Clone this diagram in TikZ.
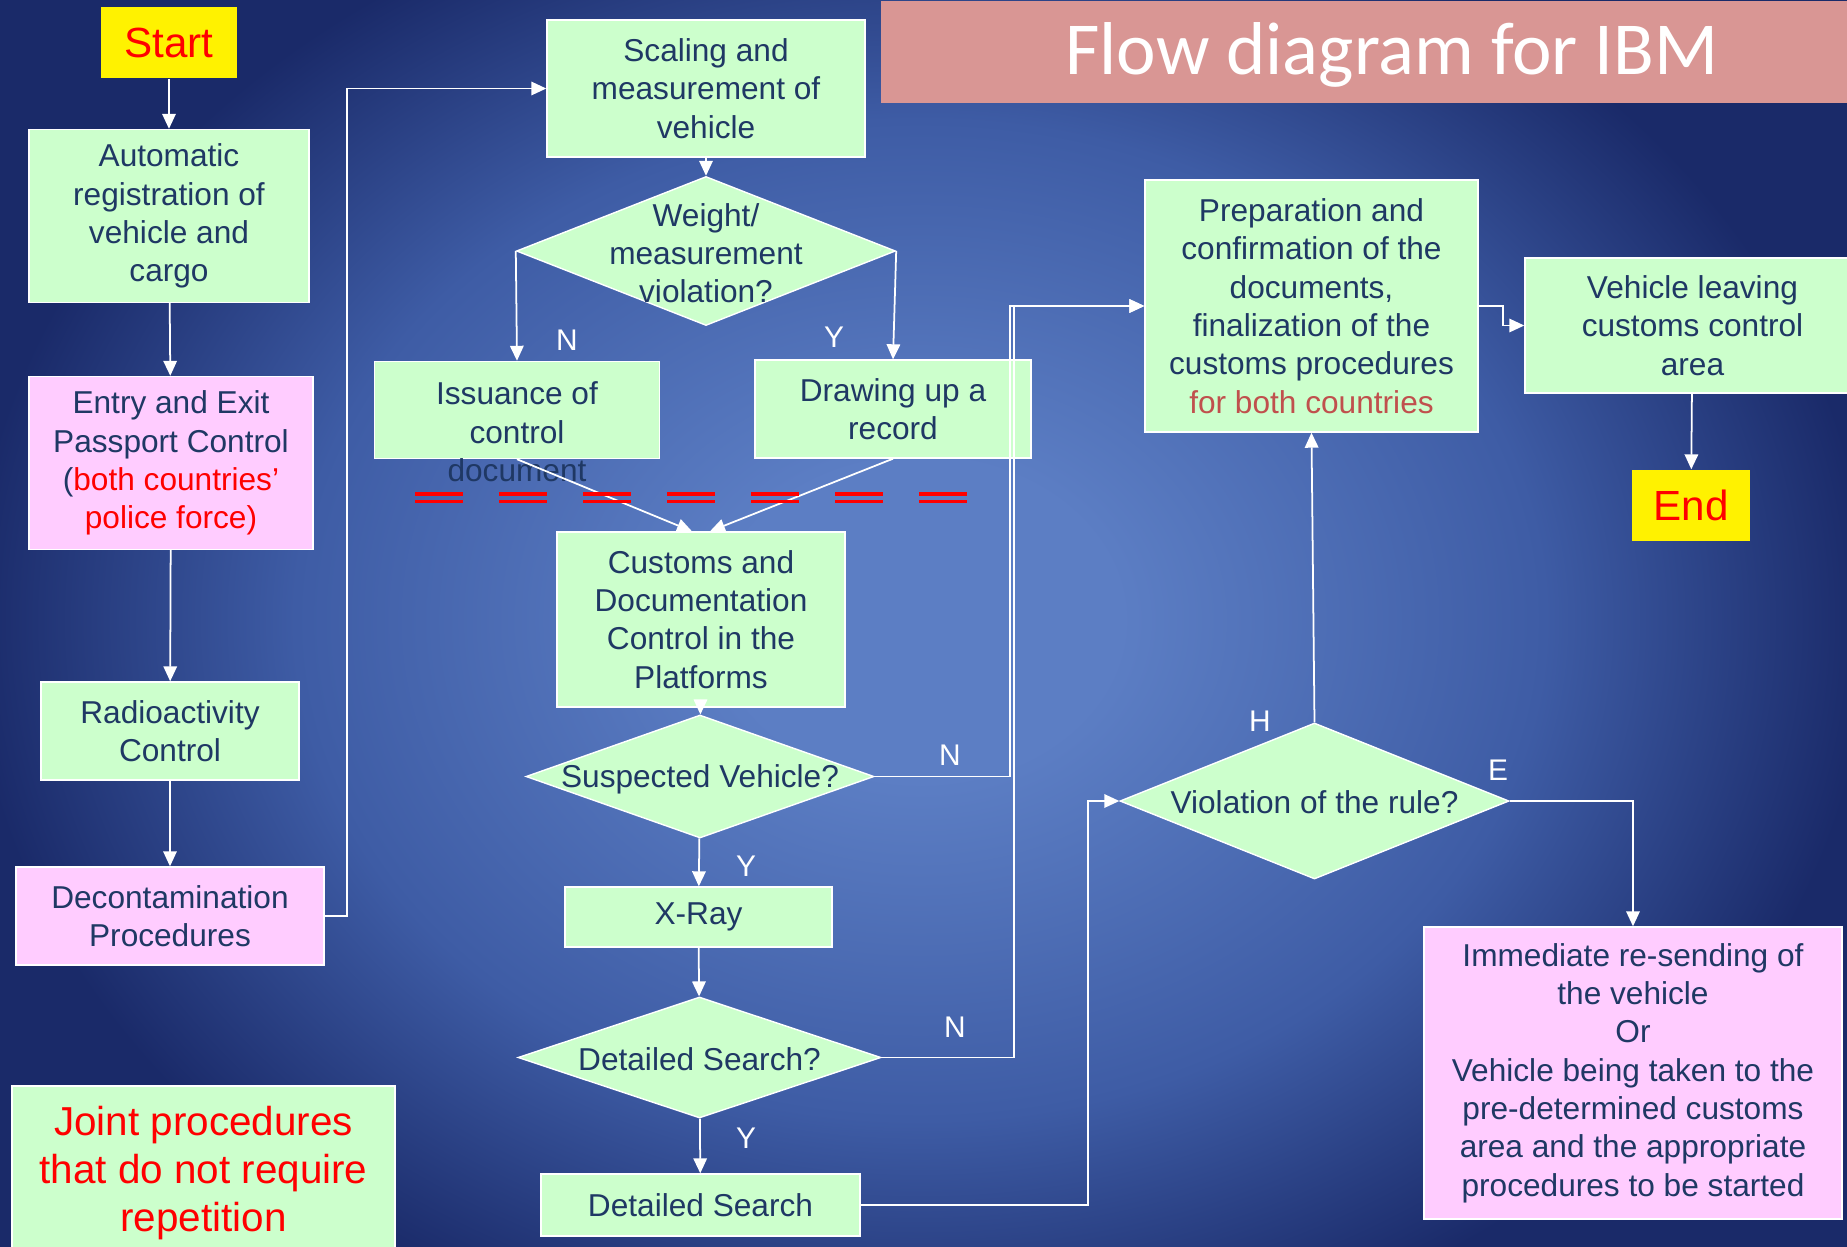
\documentclass[tikz,border=0pt]{standalone}
\usepackage{fontspec}
\setmainfont{Liberation Sans}
\newfontfamily\titlefont{Carlito}
\usetikzlibrary{shapes.geometric,arrows.meta}

\definecolor{boxgreen}{RGB}{204,255,204}
\definecolor{boxpink}{RGB}{255,204,255}
\definecolor{txtblue}{RGB}{31,56,100}
\definecolor{bandpink}{RGB}{217,150,148}
\definecolor{bglight}{RGB}{92,126,196}
\definecolor{bgmid}{RGB}{62,92,165}
\definecolor{bgdark}{RGB}{26,42,105}
\definecolor{brickred}{RGB}{192,80,77}
\pgfdeclareradialshading{slidebg}{\pgfpoint{0bp}{0bp}}{color(0bp)=(bglight); color(4bp)=(bglight); color(12.5bp)=(bgmid); color(19bp)=(bgdark); color(50bp)=(bgdark)}

\begin{document}
\begin{tikzpicture}[x=1mm,y=-1mm,
  box/.style={draw=white,line width=0.4pt,fill=boxgreen,text=txtblue,align=center,inner sep=0pt,font=\fontsize{9}{10.9}\selectfont},
  pinkbox/.style={box,fill=boxpink},
  yelbox/.style={fill=yellow,text=red,inner sep=0pt,font=\fontsize{12}{14}\selectfont},
  dia/.style={diamond,draw=white,line width=0.4pt,fill=boxgreen,inner sep=0pt},
  diatext/.style={text=txtblue,align=center,inner sep=0pt,font=\fontsize{9}{10.9}\selectfont},
  yn/.style={text=white,inner sep=0pt,font=\fontsize{8.5}{10}\selectfont},
  arr/.style={draw=white,line width=0.5pt,-{Triangle[length=1.5mm,width=1.35mm]}},
  redbar/.style={draw=red,line width=1pt}
]
\useasboundingbox (0,0) rectangle (184.7,124.7);

% background
\begin{scope}
\clip (0,0) rectangle (184.7,124.7);
\shade[shading=slidebg] (-33,-38) rectangle (217,162);
\end{scope}

% title
\node[fill=bandpink,minimum width=96.7mm,minimum height=10.2mm,anchor=north west,inner sep=0pt] (band) at (88,0) {};
\node[text=white,inner sep=0pt,font=\titlefont\fontsize{21.3}{25}\selectfont] (title) at (139.2,5.5) {Flow diagram for IBM};

% left column
\node[yelbox,minimum width=13.6mm,minimum height=7.1mm] (start) at (16.9,4.25) {Start};
\node[box,minimum width=28mm,minimum height=17.3mm] (auto) at (16.9,21.6) {Automatic\\registration of\\vehicle and\\cargo};
\node[pinkbox,minimum width=28.4mm,minimum height=17.3mm] (entry) at (17.1,46.3) {Entry and Exit\\Passport Control\\(\textcolor{red}{both countries’}\\\textcolor{red}{police force)}};
\node[box,minimum width=25.8mm,minimum height=9.8mm] (radio) at (17,73.1) {Radioactivity\\Control};
\node[pinkbox,minimum width=30.8mm,minimum height=9.8mm] (decon) at (17,91.6) {Decontamination\\Procedures};
\node[box,text=red,minimum width=38.3mm,minimum height=17.4mm,font=\fontsize{11.5}{13.7}\selectfont] (joint) at (20.35,117.3) {Joint procedures\\that do not require\\repetition};

% middle column
\node[box,minimum width=31.8mm,minimum height=13.7mm] (scaling) at (70.6,8.85) {Scaling and\\measurement of\\vehicle};
\node[dia,minimum width=37.9mm,minimum height=14.9mm] (weight) at (70.6,25.1) {};
\node[diatext] (weighttxt) at (70.6,25.3) {Weight/\\measurement\\violation?};
\node[box,minimum width=28.5mm,minimum height=9.7mm] (issue) at (51.7,41) {};
\node[diatext] (issuetxt) at (51.7,43.2) {Issuance of\\control\\document};
\node[box,minimum width=27.6mm,minimum height=9.8mm] (record) at (89.3,40.9) {Drawing up a\\record};
\node[box,minimum width=28.8mm,minimum height=17.5mm] (customs) at (70.1,61.95) {Customs and\\Documentation\\Control in the\\Platforms};
\node[dia,minimum width=34.8mm,minimum height=12.3mm] (suspect) at (70,77.65) {};
\node[diatext] (suspecttxt) at (70,77.9) {Suspected Vehicle?};
\node[box,minimum width=26.7mm,minimum height=6mm] (xray) at (69.85,91.7) {X-Ray};
\node[dia,minimum width=36.3mm,minimum height=12.1mm] (dsq) at (69.95,105.75) {};
\node[diatext] (dsqtxt) at (69.95,105.9) {Detailed Search?};
\node[box,minimum width=31.9mm,minimum height=6.2mm] (dsearch) at (70.05,120.5) {Detailed Search};

% right part
\node[box,minimum width=33.3mm,minimum height=25.2mm] (prep) at (131.15,30.6) {Preparation and\\confirmation of the\\documents,\\finalization of the\\customs procedures\\\textcolor{brickred}{for both countries}};
\node[box,minimum width=33.5mm,minimum height=13.5mm] (leave) at (169.25,32.55) {Vehicle leaving\\customs control\\area};
\node[yelbox,minimum width=11.8mm,minimum height=7.1mm] (endb) at (169.1,50.55) {End};
\node[dia,minimum width=38.9mm,minimum height=15.6mm] (viol) at (131.45,80.1) {};
\node[diatext] (violtxt) at (131.45,80.2) {Violation of the rule?};
\node[pinkbox,minimum width=41.8mm,minimum height=29.2mm] (immed) at (163.3,107.3) {Immediate re-sending of\\the vehicle\\Or\\Vehicle being taken to the\\pre-determined customs\\area and the appropriate\\procedures to be started};

% branch letters
\node[yn] (wn) at (56.7,34) {N};
\node[yn] (wy) at (83.4,33.7) {Y};
\node[yn] (sn) at (95,75.5) {N};
\node[yn] (sy) at (74.6,86.6) {Y};
\node[yn] (dn) at (95.5,102.7) {N};
\node[yn] (dy) at (74.6,113.8) {Y};
\node[yn] (vh) at (126,72.1) {H};
\node[yn] (ve) at (149.8,77) {E};

% connectors
\draw[arr] (start) -- (auto);
\draw[arr] (auto) -- (entry);
\draw[arr] (entry) -- (radio);
\draw[arr] (radio) -- (decon);
\draw[arr] (decon.east) -- ++(2.2,0) |- (scaling.west);
\draw[arr] (scaling) -- (weight);
\draw[arr] (weight.west) -- (issue.north);
\draw[arr] (weight.east) -- (record.north);
\draw[arr] (issue.south) -- ([xshift=-0.9mm]customs.north);
\draw[arr] (record.south) -- ([xshift=0.9mm]customs.north);
\draw[arr] (customs) -- (suspect);
\draw[arr] (suspect.east) -- ++(13.55,0) |- (prep.west);
\draw[arr] (suspect) -- (xray);
\draw[arr] (xray) -- (dsq);
\draw[arr] (dsq.east) -- ++(13.2,0) |- (prep.west);
\draw[arr] (dsq) -- (dsearch);
\draw[arr] (dsearch.east) -- ++(22.7,0) |- (viol.west);
\draw[arr] (viol.north) -- (prep.south);
\draw[arr] (viol.east) -| (immed.north);
\draw[arr] (prep.east) -- ++(2.4,0) |- (leave.west);
\draw[arr] (leave) -- (endb);

% red marks
\foreach \i in {0,...,6}{
  \draw[redbar] (41.5+8.4*\i,49.4) -- ++(4.8,0);
  \draw[redbar] (41.5+8.4*\i,50.15) -- ++(4.8,0);
}
\end{tikzpicture}
\end{document}
